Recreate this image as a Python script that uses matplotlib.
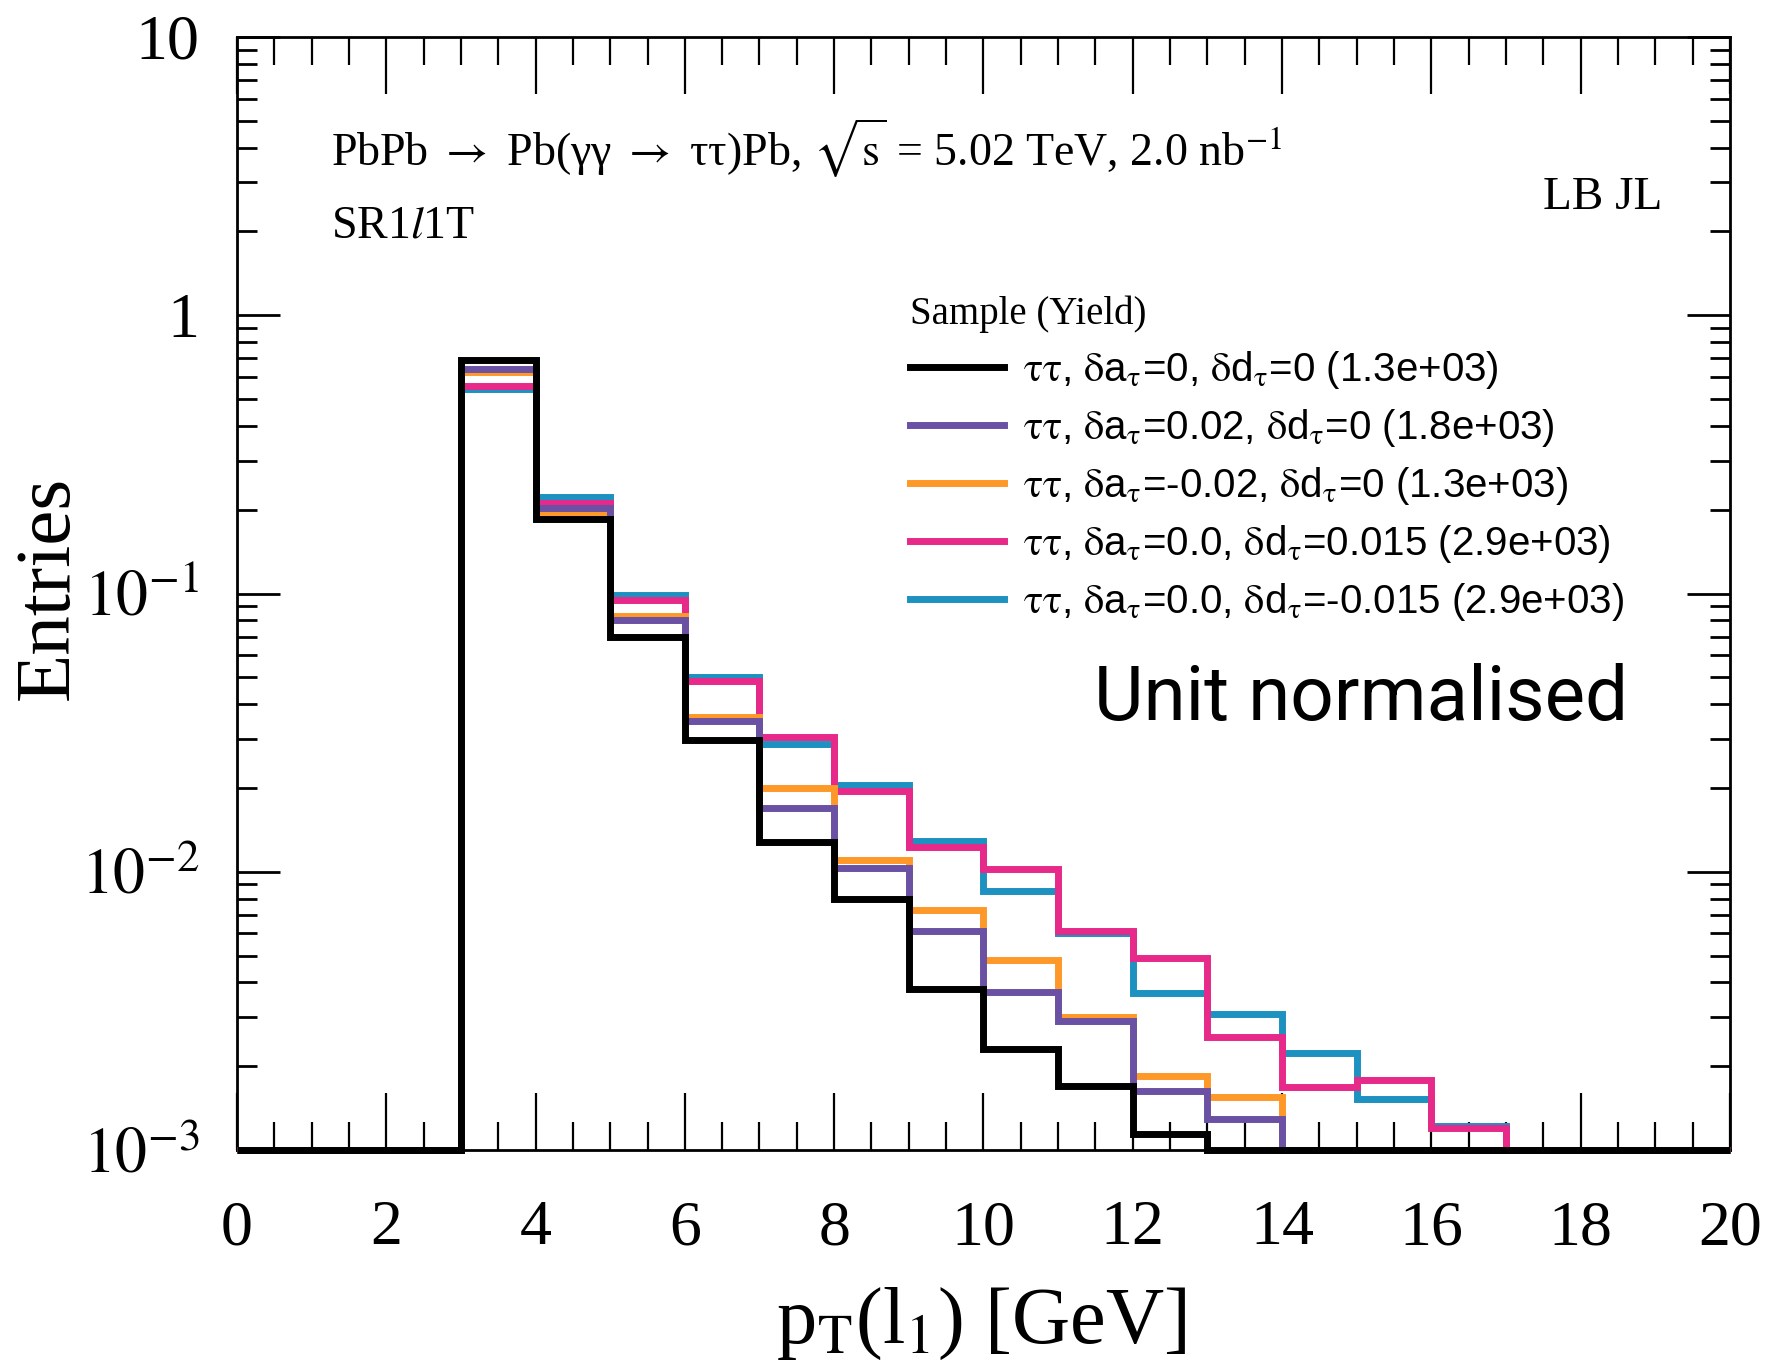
import numpy as np
import matplotlib.pyplot as plt
from matplotlib.ticker import MultipleLocator, LogLocator, NullFormatter

# bin edges in pT(l1) [GeV]
edges = np.arange(0, 21, 1)

# unit normalised entries per 1 GeV bin (0-1 ... 19-20)
sm_vals = [0, 0, 0, 0.689, 0.186, 0.0698, 0.0298, 0.0128, 0.0080, 0.0038,
           0.0023, 0.0017, 0.00114, 0, 0, 0, 0, 0, 0, 0]
a_plus_vals = [0, 0, 0, 0.641, 0.203, 0.0805, 0.0349, 0.0170, 0.0103, 0.0061,
               0.0037, 0.0029, 0.00163, 0.00129, 0, 0, 0, 0, 0, 0]
a_minus_vals = [0, 0, 0, 0.625, 0.197, 0.0827, 0.0359, 0.0200, 0.0110, 0.0073,
                0.0048, 0.0030, 0.00184, 0.00155, 0, 0, 0, 0, 0, 0]
d_plus_vals = [0, 0, 0, 0.558, 0.212, 0.0950, 0.0486, 0.0305, 0.0195, 0.0123,
               0.0102, 0.0061, 0.0049, 0.00254, 0.00169, 0.00179, 0.0012, 0, 0, 0]
d_minus_vals = [0, 0, 0, 0.543, 0.222, 0.0988, 0.0502, 0.0288, 0.0205, 0.0129,
                0.0085, 0.0060, 0.00367, 0.00307, 0.00223, 0.00153, 0.00122, 0, 0, 0]

da_labels = ['0', '0.02', '-0.02', '0.0', '0.0']
dd_labels = ['0', '0', '0', '0.015', '-0.015']
yields = ['1.3e+03', '1.8e+03', '1.3e+03', '2.9e+03', '2.9e+03']
colors = ['black', '#6a51a3', '#fe9929', '#e7298a', '#1d91c0']
series = [sm_vals, a_plus_vals, a_minus_vals, d_plus_vals, d_minus_vals]
zorders = [6, 5, 4, 3, 2]

ytick_vals = [1e-3, 1e-2, 1e-1, 1, 10]
ytick_labels = [r'$10^{-3}$', r'$10^{-2}$', r'$10^{-1}$', '1', '10']
ymin, ymax = 1e-3, 10

plt.rcParams['font.family'] = ['Liberation Serif', 'DejaVu Serif']
plt.rcParams['mathtext.fontset'] = 'stix'

fig = plt.figure(figsize=(17.72, 13.65), dpi=100)
ax = fig.add_axes([0.1337, 0.1575, 0.8426, 0.8154])

for vals, col, z, da, dd, y in zip(series, colors, zorders, da_labels, dd_labels, yields):
    v = np.clip(np.array(vals, dtype=float), ymin, None)
    lab = (r'$\mathrm{\tau\tau}$, $\mathrm{\delta}$a$_\mathrm{\tau}$=' + da
           + r', $\mathrm{\delta}$d$_\mathrm{\tau}$=' + dd + ' (' + y + ')')
    ax.stairs(v, edges, baseline=None, color=col, lw=5.0, zorder=z,
              clip_on=False, label=lab)

ax.set_xlim(0, 20)
ax.set_yscale('log')
ax.set_ylim(ymin, ymax)

ax.set_xticks(range(0, 21, 2))
ax.xaxis.set_minor_locator(MultipleLocator(0.5))
ax.set_yticks(ytick_vals, ytick_labels)
ax.yaxis.set_minor_locator(LogLocator(subs=np.arange(2, 10)))
ax.yaxis.set_minor_formatter(NullFormatter())

ax.tick_params(which='both', direction='in', top=True, right=True, labelsize=46)
ax.tick_params(axis='x', which='major', length=41, width=1.6, pad=36)
ax.tick_params(axis='x', which='minor', length=20, width=1.6)
ax.tick_params(axis='y', which='major', length=31, width=2.0, pad=27)
ax.tick_params(axis='y', which='minor', length=14.5, width=2.0)
for s in ax.spines.values():
    s.set_linewidth(2.0)

fig.text(981 / 1772, 1 - 1343 / 1365, r'p$_\mathrm{T}$(l$_1$) [GeV]', fontsize=58,
         ha='center', va='baseline')
fig.text(49 / 1772, 1 - 588 / 1365, 'Entries', fontsize=57, rotation=90,
         ha='center', va='center')

ax.text(0.063, 0.884,
        r'PbPb $\rightarrow$ Pb(γγ $\rightarrow$ ττ)Pb, $\sqrt{\mathrm{s}}$ = 5.02 TeV, 2.0 nb$^{-1}$',
        transform=ax.transAxes, fontsize=33, va='baseline')
ax.text(0.063, 0.820, r'SR1$\it{l}$1T', transform=ax.transAxes, fontsize=33, va='baseline')
ax.text(0.9545, 0.8455, 'LB JL', transform=ax.transAxes, fontsize=34, ha='right', va='baseline')
ax.text(0.932, 0.386, 'Unit normalised', transform=ax.transAxes, fontsize=55,
        family=['Roboto', 'DejaVu Sans'], color='black', ha='right', va='baseline')

leg = ax.legend(loc='upper left', bbox_to_anchor=(0.4508, 0.768), frameon=False,
                title='Sample (Yield)', alignment='left', borderpad=0, borderaxespad=0,
                handlelength=2.33, handletextpad=0.47, labelspacing=0.40,
                prop={'family': ['Liberation Sans', 'DejaVu Sans'], 'size': 29})
leg.get_title().set_fontsize(28)
leg.get_title().set_fontfamily(['Liberation Serif', 'DejaVu Serif'])

fig.savefig('out.png', dpi=100)
